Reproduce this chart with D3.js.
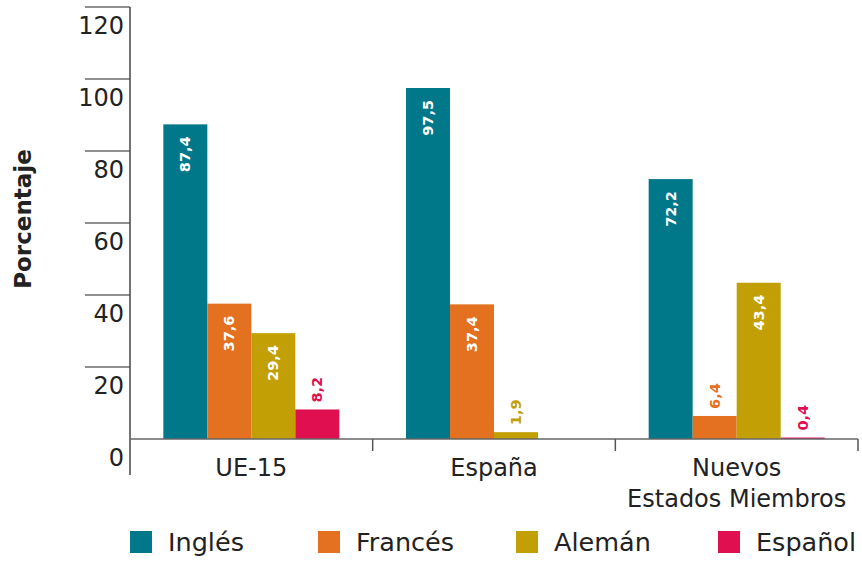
<!DOCTYPE html>
<html><head><meta charset="utf-8">
<script src="https://cdn.jsdelivr.net/npm/d3@7"></script>
<style>body{margin:0;background:#fff}svg{display:block}text{font-family:"DejaVu Sans",Verdana,sans-serif}</style>
</head><body>
<svg id="c" width="862" height="561"></svg>
<script>
const categories = ["UE-15", "España", "Nuevos\nEstados Miembros"];
const languages = ["Inglés", "Francés", "Alemán", "Español"];
const colors = ["#01788A", "#E3711F", "#C2A005", "#E01050"];
const ingles  = [87.4, 97.5, 72.2];
const frances = [37.6, 37.4, 6.4];
const aleman  = [29.4, 1.9, 43.4];
const espanol = [8.2, null, 0.4];
const yTicks = [0, 20, 40, 60, 80, 100, 120];

(function () {
const seriesVals = [ingles, frances, aleman, espanol];
const svg = d3.select("#c");
const mLeft = 130, mRight = 858, mTop = 7, mBottom = 439;
const y = d3.scaleLinear().domain([0, 120]).range([mBottom, mTop]);
const x0 = d3.scaleBand().domain(categories).range([mLeft, mRight]).padding(0);
const bw = x0.bandwidth(), gw = 176;
const x1 = d3.scaleBand().domain(languages).range([(bw - gw) / 2, (bw + gw) / 2]).padding(0);

// y axis ticks
const yg = svg.append("g");
yg.selectAll("line").data(yTicks.filter(d => d > 0)).join("line")
  .attr("x1", 85).attr("x2", mLeft).attr("y1", d => y(d)).attr("y2", d => y(d))
  .attr("stroke", "#222").attr("stroke-width", 1.2);
yg.selectAll("text").data(yTicks).join("text")
  .attr("x", 124).attr("y", d => y(d) + 27).attr("text-anchor", "end")
  .attr("font-size", 24).attr("fill", "#222").text(d => d);
svg.append("line").attr("x1", mLeft).attr("x2", mLeft).attr("y1", mTop).attr("y2", 475)
  .attr("stroke", "#444").attr("stroke-width", 1.5);

// bars
const data = [];
categories.forEach((c, ci) => languages.forEach((l, li) => {
  const v = seriesVals[li][ci];
  if (v != null) data.push({c, l, li, v});
}));
svg.append("g").selectAll("rect").data(data).join("rect")
  .attr("x", d => x0(d.c) + x1(d.l)).attr("width", x1.bandwidth())
  .attr("y", d => y(d.v)).attr("height", d => y(0) - y(d.v))
  .attr("fill", d => colors[d.li]);

// value labels
const fmt = v => d3.format(".1f")(v).replace(".", ",");
svg.append("g").selectAll("text").data(data).join("text")
  .attr("transform", d => {
    const cx = x0(d.c) + x1(d.l) + x1.bandwidth() / 2;
    const yy = d.v > 20 ? y(d.v) + 12 : y(d.v) - 7;
    return `translate(${cx},${yy}) rotate(-90)`;
  })
  .attr("text-anchor", d => d.v > 20 ? "end" : "start")
  .attr("dominant-baseline", "central")
  .attr("font-size", 14.5).attr("font-weight", "bold")
  .attr("fill", d => d.v > 20 ? "#fff" : colors[d.li])
  .text(d => fmt(d.v));

// x axis
svg.append("line").attr("x1", mLeft).attr("x2", mRight).attr("y1", mBottom).attr("y2", mBottom)
  .attr("stroke", "#666").attr("stroke-width", 1.5);
svg.append("g").selectAll("line").data(categories).join("line")
  .attr("x1", d => x0(d) + bw).attr("x2", d => x0(d) + bw)
  .attr("y1", mBottom).attr("y2", 451).attr("stroke", "#555").attr("stroke-width", 1.5);
const cl = svg.append("g").selectAll("text").data(categories).join("text")
  .attr("x", d => x0(d) + bw / 2).attr("y", 476).attr("text-anchor", "middle")
  .attr("font-size", 24).attr("fill", "#222");
cl.each(function(d) {
  d.split("\n").forEach((s, i) => d3.select(this).append("tspan")
    .attr("x", x0(d) + bw / 2).attr("dy", i ? 31 : 0).text(s));
});

// y title
svg.append("text").attr("transform", "translate(31,219) rotate(-90)")
  .attr("text-anchor", "middle").attr("font-size", 23).attr("font-weight", "bold")
  .attr("fill", "#222").text("Porcentaje");

// legend
const legX = [130, 318, 516, 718];
const lg = svg.append("g").selectAll("g").data(languages).join("g")
  .attr("transform", (d, i) => `translate(${legX[i]},531)`);
lg.append("rect").attr("width", 22).attr("height", 22).attr("fill", (d, i) => colors[i]);
lg.append("text").attr("x", 38).attr("y", 20).attr("font-size", 25.5).attr("fill", "#222").text(d => d);
})();
</script>
</body></html>
